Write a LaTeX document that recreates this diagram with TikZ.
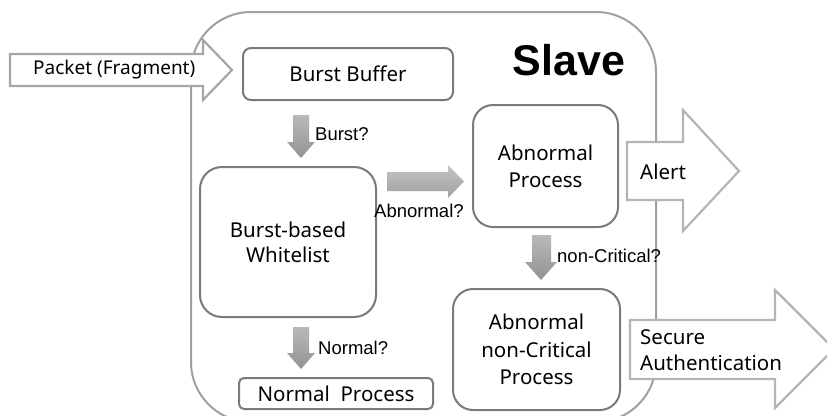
\documentclass[tikz,border=0pt]{standalone}
\usepackage{fontspec}
\setmainfont{Noto Sans}
\newfontfamily\labfont{Liberation Sans}
\begin{document}
\begin{tikzpicture}[x=1pt,y=-1pt,
  box/.style={draw=boxgray, line width=2pt, fill=white, align=center, inner sep=0pt,
    font=\fontsize{20.5}{27}\selectfont},
  lab/.style={anchor=west, inner sep=0pt, font=\labfont\fontsize{18.5}{22}\selectfont},
  outarrow/.style={fill=white, line width=2.2pt, line join=miter},
  blockv/.style={top color=gray!55, bottom color=gray!85, draw=none},
  blockh/.style={top color=gray!45, bottom color=gray!75, draw=none}]
\definecolor{boxgray}{HTML}{7A7A7A}
\definecolor{slavegray}{HTML}{A0A0A0}
\definecolor{arrgray}{HTML}{B4B4B4}
\useasboundingbox (0,0) rectangle (827,415);
\clip (0,0) rectangle (827,415);

% Slave container
\draw[slavegray, line width=2pt, rounded corners=60pt] (191,12) rectangle (656,422);
\node[anchor=base, inner sep=0pt, font=\labfont\bfseries\fontsize{43}{43}\selectfont] (slave) at (569,75) {Slave};

% Boxes
\node[box, rounded corners=8pt, minimum width=210pt, minimum height=52pt] (bb) at (348,74) {Burst Buffer};
\node[box, rounded corners=22pt, minimum width=176pt, minimum height=150pt, font=\fontsize{20.5}{25}\selectfont] (wl) at (288,242) {Burst-based\\Whitelist};
\node[box, rounded corners=20pt, minimum width=145pt, minimum height=122pt] (ap) at (545.5,166) {Abnormal\\Process};
\node[box, rounded corners=20pt, minimum width=167pt, minimum height=121pt, font=\fontsize{20.5}{27.5}\selectfont] (anc) at (536.5,349.5) {Abnormal\\non-Critical\\Process};
\node[box, rounded corners=5pt, minimum width=194pt, minimum height=31pt] (np) at (336,393.5) {Normal\ \ Process};

% Gray block arrows
\shade[blockv] (293,115) -- (309,115) -- (309,142) -- (315,142) -- (301,158) -- (287,142) -- (293,142) -- cycle;
\shade[blockv] (293,327) -- (309,327) -- (309,353) -- (315,353) -- (301,369) -- (287,353) -- (293,353) -- cycle;
\shade[blockv] (532,235) -- (551,235) -- (551,262) -- (557,262) -- (541,280) -- (525,262) -- (532,262) -- cycle;
\shade[blockh] (387,172) -- (448,172) -- (448,165) -- (464,181.5) -- (448,198) -- (448,191) -- (387,191) -- cycle;

% Labels of block arrows
\node[lab] (lburst) at (315,134) {Burst?};
\node[lab] (labn) at (374,211) {Abnormal?};
\node[lab] (lnorm) at (318,348) {Normal?};
\node[lab] (lnc) at (557,256) {non-Critical?};

% Outline arrows
\draw[outarrow, draw=gray!70] (10,54) -- (203,54) -- (203,40) -- (232,70) -- (203,100) -- (203,86) -- (10,86) -- cycle;
\node[anchor=west, inner sep=0pt, font=\fontsize{19}{22}\selectfont] (pk) at (33,70) {Packet (Fragment)};

\draw[outarrow, draw=arrgray] (627,142) -- (683,142) -- (683,110) -- (739,171) -- (683,231) -- (683,200) -- (627,200) -- cycle;
\node[anchor=west, inner sep=0pt, font=\fontsize{20.5}{27}\selectfont] (alert) at (640,172) {Alert};

\draw[outarrow, draw=arrgray] (630,320) -- (775,320) -- (775,290) -- (834,349) -- (775,408) -- (775,379) -- (630,379) -- cycle;
\node[anchor=west, inner sep=0pt, align=left, font=\fontsize{20.5}{26}\selectfont] (sa) at (640,350) {Secure\\Authentication};
\end{tikzpicture}
\end{document}
